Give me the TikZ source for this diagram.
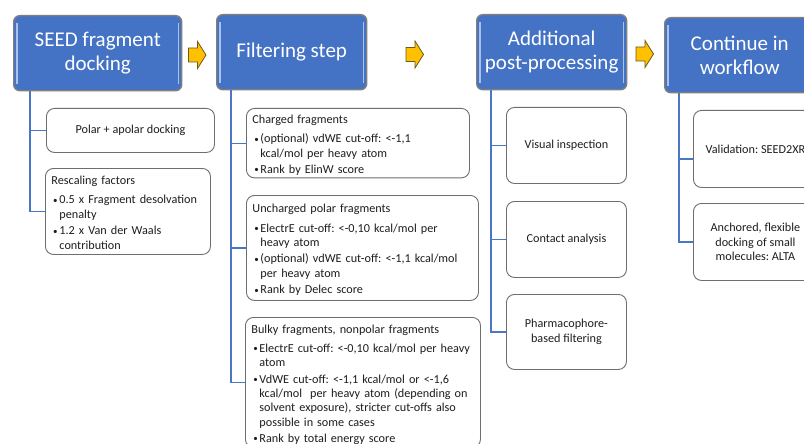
\documentclass[tikz,border=0pt]{standalone}
\usepackage{fontspec}
\setmainfont{Carlito}

\definecolor{hdrblue}{HTML}{4472C4}
\definecolor{hdrline}{HTML}{7F7F7F}
\definecolor{hdrstripe}{HTML}{A9C2EC}
\definecolor{linkblue}{HTML}{4A76C6}
\definecolor{boxline}{HTML}{6E6E6E}
\definecolor{arrowfill}{HTML}{FFC000}
\definecolor{arrowline}{HTML}{6B5A1E}
\definecolor{bodytext}{HTML}{1E1E1E}

% heading line of a list box (with a little room above it), and one bulleted
% item whose lines hang after the bullet
\newcommand\boxhead[1]{\rule{0pt}{15pt}#1\par\vspace{3.8pt}}
\newcommand\smallbullet{\raisebox{0.6pt}{\fontsize{9}{9}\selectfont\textbullet}}
\newcommand\bulletitem[1]{\par\vspace{1.2pt}\noindent
  \hspace*{1.8pt}\makebox[6.2pt][l]{\smallbullet}%
  \begin{tabular}[t]{@{}l@{}}#1\end{tabular}}

\tikzset{
  header/.style={draw=hdrline, line width=1.4pt, fill=hdrblue, rounded corners=6pt,
    text=white, font=\fontsize{21}{24}\selectfont, align=center, inner sep=0pt,
    anchor=north west},
  stripe/.style={hdrstripe, line width=1.2pt},
  child/.style={draw=boxline, line width=0.9pt, fill=white, rounded corners=8pt,
    text=bodytext, font=\fontsize{12.2}{14.3}\selectfont\frenchspacing, inner ysep=0pt,
    anchor=north west},
  listbox/.style={child, align=left, inner xsep=6pt},
  plainbox/.style={child, align=center, inner xsep=2pt},
  link/.style={linkblue, line width=1.1pt},
  yarrow/.pic={
    \draw[arrowline, fill=arrowfill, line width=0.8pt, line join=miter]
      (0,-7) -- (9,-7) -- (9,-13.5) -- (17.5,0) -- (9,13.5) -- (9,7) -- (0,7) -- cycle;
  }
}

\begin{document}
\begin{tikzpicture}[x=1pt, y=-1pt]
  \useasboundingbox (0,0) rectangle (804,444);
  \fill[white] (0,0) rectangle (804,444);

  % stage headers
  \node[header, minimum width=168pt, minimum height=75pt] (h1) at (13,15) {SEED fragment\\docking};
  \node[header, minimum width=150pt, minimum height=75pt] (h2) at (216,14) {Filtering step};
  \node[header, minimum width=150pt, minimum height=75pt] (h3) at (476,14) {Additional\\post-processing};
  \node[header, minimum width=150pt, minimum height=75pt] (h4) at (664,17) {Continue in\\workflow};

  % light bevel stripes inside the headers
  \foreach \h in {h1,h2,h3,h4}{
    \draw[stripe] ([xshift=4pt,yshift=-8pt]\h.north west) -- ([xshift=4pt,yshift=7pt]\h.south west);
    \draw[stripe] ([xshift=-4pt,yshift=-8pt]\h.north east) -- ([xshift=-4pt,yshift=7pt]\h.south east);
  }

  % arrows between the stages
  \pic (a1) at (188.5,55) {yarrow};
  \pic (a2) at (406,54.5) {yarrow};
  \pic (a3) at (636,54) {yarrow};

  % SEED fragment docking
  \node[plainbox, minimum width=168pt, minimum height=44pt] (c11) at (46,108) {Polar + apolar docking};
  \node[listbox, text width=153pt, minimum height=86pt] (c12) at (45,168) {%
    \boxhead{Rescaling factors}%
    \bulletitem{0.5 x Fragment desolvation\\penalty}%
    \bulletitem{1.2 x Van der Waals\\contribution}};

  % Filtering step
  \node[listbox, text width=211pt, minimum height=69pt] (c21) at (246,108) {%
    \boxhead{Charged fragments}%
    \bulletitem{(optional) vdWE cut-off: <-1,1\\kcal/mol per heavy atom}%
    \bulletitem{Rank by ElinW score}};
  \node[listbox, text width=220pt, minimum height=105pt] (c22) at (246,195) {%
    \boxhead{Uncharged polar fragments}%
    \bulletitem{ElectrE cut-off: <-0,10 kcal/mol per\\heavy atom}%
    \bulletitem{(optional) vdWE cut-off: <-1,1 kcal/mol\\per heavy atom}%
    \bulletitem{Rank by Delec score}};
  \node[listbox, text width=223pt, minimum height=130pt] (c23) at (245,317) {%
    \boxhead{Bulky fragments, nonpolar fragments}%
    \bulletitem{ElectrE cut-off: <-0,10 kcal/mol per heavy\\atom}%
    \bulletitem{VdWE cut-off: <-1,1 kcal/mol or <-1,6\\
      kcal/mol\ \ per heavy atom (depending on\\
      solvent exposure), stricter cut-offs also\\
      possible in some cases}%
    \bulletitem{Rank by total energy score}};

  % Additional post-processing
  \node[plainbox, minimum width=120pt, minimum height=76pt] (c31) at (506,107) {Visual inspection};
  \node[plainbox, minimum width=120pt, minimum height=76pt] (c32) at (506,201) {Contact analysis};
  \node[plainbox, minimum width=120pt, minimum height=75pt] (c33) at (506,294) {Pharmacophore-\\based filtering};

  % Continue in workflow
  \node[plainbox, minimum width=124pt, minimum height=77pt] (c41) at (693,110) {Validation: SEED2XR};
  \node[plainbox, minimum width=124pt, minimum height=77pt] (c42) at (693,203) {Anchored, flexible\\docking of small\\molecules: ALTA};

  % connectors from each header to its boxes
  \draw[link] ([xshift=17pt]h1.south west) |- (c11.west);
  \draw[link] ([xshift=17pt]h1.south west) |- (c12.west);
  \draw[link] ([xshift=15pt]h2.south west) |- (c21.west);
  \draw[link] ([xshift=15pt]h2.south west) |- (c22.west);
  \draw[link] ([xshift=15pt]h2.south west) |- (c23.west);
  \draw[link] ([xshift=15pt]h3.south west) |- (c31.west);
  \draw[link] ([xshift=15pt]h3.south west) |- (c32.west);
  \draw[link] ([xshift=15pt]h3.south west) |- (c33.west);
  \draw[link] ([xshift=15pt]h4.south west) |- ([yshift=-10pt]c41.west);
  \draw[link] ([xshift=15pt]h4.south west) |- (c42.west);
\end{tikzpicture}
\end{document}
